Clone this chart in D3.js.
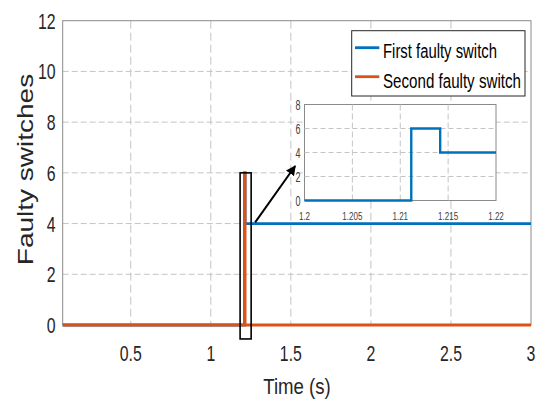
<!DOCTYPE html>
<html>
<head>
<meta charset="utf-8">
<script src="https://cdn.jsdelivr.net/npm/d3@7"></script>
<style>
  html, body { margin: 0; padding: 0; background: #fff; }
  svg { display: block; }
  text { font-family: "Liberation Sans", Arial, Helvetica, sans-serif; }
</style>
</head>
<body>
<svg id="chart" width="537" height="405"></svg>
<script>
// ---- data ----
// step series: value holds from each time until the next one
const firstTimes   = [0.075, 1.21115, 1.21417, 3];
const firstValues  = [0, 6, 4, 4];
const secondTimes  = [0.075, 1.21125, 1.21420, 3];
const secondValues = [0, 6, 0, 0];

const xTicks = [0.5, 1, 1.5, 2, 2.5, 3];
const xTickLabels = ["0.5", "1", "1.5", "2", "2.5", "3"];
const yTicks = [0, 2, 4, 6, 8, 10, 12];
const yTickLabels = ["0", "2", "4", "6", "8", "10", "12"];

const insetXTicks = [1.2, 1.205, 1.21, 1.215, 1.22];
const insetXTickLabels = ["1.2", "1.205", "1.21", "1.215", "1.22"];
const insetYTicks = [0, 2, 4, 6, 8];
const insetYTickLabels = ["0", "2", "4", "6", "8"];

const seriesNames = ["First faulty switch", "Second faulty switch"];

// zoom window marker and pointer (data units of the main axes)
const zoomBoxX = [1.183, 1.252];
const zoomBoxY = [-0.55, 6];
const pointerFrom = [1.277, 4.05];
const pointerTo = [1.527, 6.27];

// ---- drawing ----
const BLUE = "#0072BD", ORANGE = "#D95319";
const svg = d3.select("#chart");

const x = d3.scaleLinear().domain([0.075, 3]).range([62.7, 531]);
const y = d3.scaleLinear().domain([0, 12]).range([325, 20.7]);

const defs = svg.append("defs");
defs.append("marker").attr("id", "head")
  .attr("viewBox", "0 0 10 10").attr("refX", 9).attr("refY", 5)
  .attr("markerWidth", 5).attr("markerHeight", 5).attr("orient", "auto")
  .append("path").attr("d", "M0,0 L10,5 L0,10 z").attr("fill", "#000");

// narrow glyphs: place at (data-x, data-y) and compress horizontally
function squeezed(sel, sx) {
  sel.attr("transform", function () {
    const tx = +this.getAttribute("data-x"), ty = +this.getAttribute("data-y");
    return `translate(${tx},${ty}) scale(${sx},1)`;
  });
}

// grid
const grid = svg.append("g");
grid.selectAll("line.gx").data(xTicks.slice(0, -1)).join("line")
  .attr("x1", d => x(d)).attr("x2", d => x(d))
  .attr("y1", y(12)).attr("y2", y(0))
  .attr("stroke", "#c4c4c4").attr("stroke-width", 1).attr("stroke-dasharray", "8,4");
grid.selectAll("line.gy").data(yTicks.slice(1, -1)).join("line")
  .attr("y1", d => y(d)).attr("y2", d => y(d))
  .attr("x1", x.range()[0]).attr("x2", x.range()[1])
  .attr("stroke", "#c4c4c4").attr("stroke-width", 1).attr("stroke-dasharray", "6,3");

// axes frame
svg.append("rect").attr("x", x.range()[0]).attr("y", y(12))
  .attr("width", x.range()[1] - x.range()[0]).attr("height", y(0) - y(12))
  .attr("fill", "none").attr("stroke", "#8a8a8a").attr("stroke-width", 1);

// tick labels
svg.append("g").selectAll("text").data(xTicks).join("text")
  .attr("data-x", d => x(d)).attr("data-y", 360.5)
  .attr("text-anchor", "middle").attr("font-size", 22).attr("fill", "#262626")
  .text((d, i) => xTickLabels[i]).call(squeezed, 0.72);
svg.append("g").selectAll("text").data(yTicks).join("text")
  .attr("data-x", 55.5).attr("data-y", d => y(d) + 8)
  .attr("text-anchor", "end").attr("font-size", 22).attr("fill", "#262626")
  .text((d, i) => yTickLabels[i]).call(squeezed, 0.72);

// axis titles
svg.append("text").attr("data-x", 297).attr("data-y", 393.5)
  .attr("text-anchor", "middle").attr("font-size", 23).attr("fill", "#262626")
  .text("Time (s)").call(squeezed, 0.81);
svg.append("text")
  .attr("transform", "translate(33.3,169.5) scale(0.82,1) rotate(-90)")
  .attr("text-anchor", "middle").attr("font-size", 28).attr("fill", "#262626")
  .text("Faulty switches");

// series
const stepLine = (sx, sy) => d3.line().x(d => sx(d[0])).y(d => sy(d[1])).curve(d3.curveStepAfter);
const firstPts = firstTimes.map((t, i) => [t, firstValues[i]]);
const secondPts = secondTimes.map((t, i) => [t, secondValues[i]]);

svg.append("path").datum(firstPts).attr("d", stepLine(x, y))
  .attr("fill", "none").attr("stroke", BLUE).attr("stroke-width", 2.8);
svg.append("path").datum(secondPts).attr("d", stepLine(x, y))
  .attr("fill", "none").attr("stroke", ORANGE).attr("stroke-width", 2.8);

// zoom window marker
svg.append("rect")
  .attr("x", x(zoomBoxX[0])).attr("y", y(zoomBoxY[1]))
  .attr("width", x(zoomBoxX[1]) - x(zoomBoxX[0]))
  .attr("height", y(zoomBoxY[0]) - y(zoomBoxY[1]))
  .attr("fill", "none").attr("stroke", "#000").attr("stroke-width", 1.6);

// legend
const lg = svg.append("g");
lg.append("rect").attr("x", 351.7).attr("y", 30.7).attr("width", 173.3).attr("height", 65.3)
  .attr("fill", "#fff").attr("stroke", "#262626").attr("stroke-width", 1);
const legendRows = [
  { name: seriesNames[0], color: BLUE, ly: 47.7, by: 58.3, len: 114 },
  { name: seriesNames[1], color: ORANGE, ly: 76.7, by: 87.5, len: 138 }
];
legendRows.forEach(r => {
  lg.append("line").attr("x1", 355).attr("x2", 379.3).attr("y1", r.ly).attr("y2", r.ly)
    .attr("stroke", r.color).attr("stroke-width", 2.8);
  const t = lg.append("text").attr("font-size", 21).attr("fill", "#000").text(r.name);
  const natural = t.node().getComputedTextLength();
  t.attr("transform", `translate(383,${r.by}) scale(${r.len / natural},1)`);
});

// inset axes
const ix = d3.scaleLinear().domain([1.2, 1.22]).range([304.5, 496]);
const iy = d3.scaleLinear().domain([0, 8]).range([200.5, 104.5]);
const inset = svg.append("g");
inset.append("rect").attr("x", ix.range()[0]).attr("y", iy.range()[1])
  .attr("width", ix.range()[1] - ix.range()[0]).attr("height", iy.range()[0] - iy.range()[1])
  .attr("fill", "#fff").attr("stroke", "#8a8a8a").attr("stroke-width", 1);
inset.selectAll("line.gx").data(insetXTicks.slice(1, -1)).join("line")
  .attr("x1", d => ix(d)).attr("x2", d => ix(d))
  .attr("y1", iy(8)).attr("y2", iy(0))
  .attr("stroke", "#c4c4c4").attr("stroke-width", 1).attr("stroke-dasharray", "6,3");
inset.selectAll("line.gy").data(insetYTicks.slice(1, -1)).join("line")
  .attr("y1", d => iy(d)).attr("y2", d => iy(d))
  .attr("x1", ix.range()[0]).attr("x2", ix.range()[1])
  .attr("stroke", "#c4c4c4").attr("stroke-width", 1).attr("stroke-dasharray", "5,3");
defs.append("clipPath").attr("id", "insetClip").append("rect")
  .attr("x", ix.range()[0]).attr("y", iy.range()[1] - 3)
  .attr("width", ix.range()[1] - ix.range()[0]).attr("height", iy.range()[0] - iy.range()[1] + 6);
inset.append("path").datum(firstPts).attr("d", stepLine(ix, iy))
  .attr("clip-path", "url(#insetClip)")
  .attr("fill", "none").attr("stroke", BLUE).attr("stroke-width", 2.4);
inset.selectAll("text.tx").data(insetXTicks).join("text")
  .attr("data-x", d => ix(d)).attr("data-y", 219.5)
  .attr("text-anchor", "middle").attr("font-size", 11).attr("fill", "#404040")
  .text((d, i) => insetXTickLabels[i]).call(squeezed, 0.73);
inset.selectAll("text.ty").data(insetYTicks).join("text")
  .attr("data-x", 300.5).attr("data-y", d => iy(d) + 5.5)
  .attr("text-anchor", "end").attr("font-size", 15).attr("fill", "#404040")
  .text((d, i) => insetYTickLabels[i]).call(squeezed, 0.6);

// pointer from the zoom window to the inset
svg.append("line")
  .attr("x1", x(pointerFrom[0])).attr("y1", y(pointerFrom[1]))
  .attr("x2", x(pointerTo[0])).attr("y2", y(pointerTo[1]))
  .attr("stroke", "#000").attr("stroke-width", 2).attr("marker-end", "url(#head)");
</script>
</body>
</html>
